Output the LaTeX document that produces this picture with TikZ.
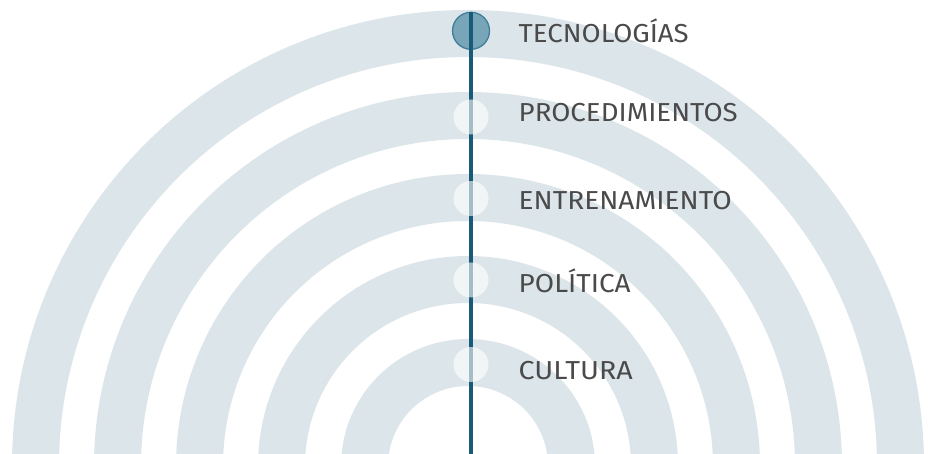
\documentclass[tikz,border=0pt]{standalone}
\usepackage{fontspec}
\setmainfont{Fira Sans}
\definecolor{ringc}{HTML}{DCE6EA}
\definecolor{linec}{HTML}{1A5A79}
\definecolor{dotfill}{HTML}{78A6B8}
\definecolor{dotdraw}{HTML}{3E7E97}
\definecolor{txtc}{HTML}{4A4A4A}
\newsavebox\lblbox
\newcommand\fitw[2]{\sbox\lblbox{#2}\edef\mywd{\the\wd\lblbox}\pgfmathsetmacro\myratio{#1/\mywd}\scalebox{\myratio}[1]{\usebox\lblbox}}
\tikzset{
  ringarc/.style={draw=ringc, line width=47pt},
  topdot/.style={circle, minimum size=37pt, inner sep=0pt, fill=dotfill, draw=dotdraw, line width=1.3pt},
  softdot/.style={circle, minimum size=35pt, inner sep=0pt, fill=white, fill opacity=0.6},
  axis/.style={draw=linec, line width=3.5pt},
  lbl/.style={anchor=base west, inner sep=0pt, text=txtc, font=\fontsize{26}{30}\selectfont}
}
\begin{document}
\begin{tikzpicture}[x=1pt,y=1pt]
\useasboundingbox (0,0) rectangle (933,454);
\clip (0,0) rectangle (933,454);
\fill[white] (0,0) rectangle (933,454);
\foreach \r in {432.5,350.5,268.5,186.5,103.5}
  \draw[ringarc] (468,-12) ++(0:\r) arc (0:180:\r);
\node[topdot] (c1) at (471,423.2) {};
\coordinate (bot) at (471,0);
\draw[axis] (c1.north) -- (bot);
\node[softdot] (c2) at (471,337) {};
\node[softdot] (c3) at (471,255.5) {};
\node[softdot] (c4) at (471,174) {};
\node[softdot] (c5) at (471,89.5) {};
\node[lbl] (l1) at (518.5,411) {\fitw{170}{TECNOLOGÍAS}};
\node[lbl] (l2) at (518.5,332) {\fitw{219}{PROCEDIMIENTOS}};
\node[lbl] (l3) at (518.5,244) {\fitw{213}{ENTRENAMIENTO}};
\node[lbl] (l4) at (518.5,161) {\fitw{112}{POLÍTICA}};
\node[lbl] (l5) at (518.5,74) {\fitw{114}{CULTURA}};
\end{tikzpicture}
\end{document}
